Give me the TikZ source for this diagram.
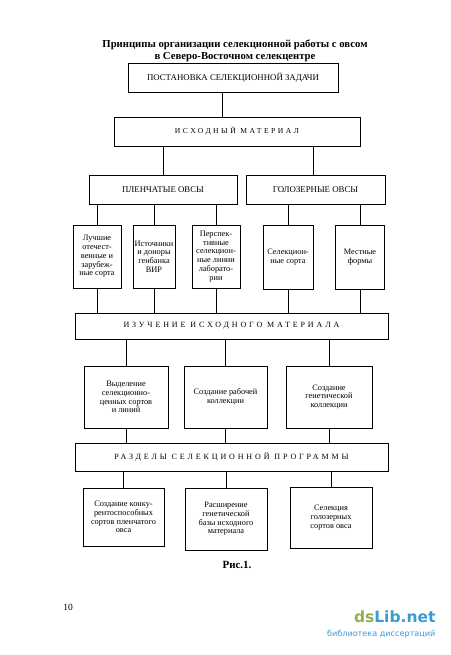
\documentclass[tikz,border=0pt]{standalone}
\usepackage{fontspec}
\setmainfont{Liberation Serif}
\newfontfamily\wmfont{DejaVu Sans}
\newfontfamily\spaced[LetterSpace=36]{Liberation Serif}
\newfontfamily\spacedless[LetterSpace=33]{Liberation Serif}
\usepackage{tikz}
\usetikzlibrary{positioning}
\definecolor{wmgreen}{HTML}{8DB14C}
\definecolor{wmblue}{HTML}{3D9AD1}
\tikzset{
  frame/.style={draw, line width=0.7pt, inner sep=1pt, align=center, font=\fontsize{8.3}{8.7}\selectfont},
  head/.style={frame, font=\fontsize{8.8}{10}\selectfont},
  wide/.style={frame, font=\fontsize{8}{10}\selectfont\spaced},
  link/.style={line width=0.6pt},
}

\begin{document}
\begin{tikzpicture}[x=1pt,y=-1pt]
\useasboundingbox (0,0) rectangle (450,655);

% title
\node[font=\fontsize{10.7}{12.5}\selectfont\bfseries, align=center] (title) at (235,51)
  {Принципы организации селекционной работы с овсом\\в Северо-Восточном селекцентре};

% upper part
\node[head, minimum width=210, minimum height=29] (task) at (233,77.5) {ПОСТАНОВКА СЕЛЕКЦИОННОЙ ЗАДАЧИ};
\node[wide, minimum width=246, minimum height=29, font=\fontsize{7.6}{10}\selectfont\spacedless] (source) at (237,131.5) {ИСХОДНЫЙ МАТЕРИАЛ};
\node[head, minimum width=148, minimum height=29] (hulled) at (163,189.5) {ПЛЕНЧАТЫЕ ОВСЫ};
\node[head, minimum width=139, minimum height=29] (naked) at (315.5,189.5) {ГОЛОЗЕРНЫЕ ОВСЫ};

\node[frame, minimum width=48, minimum height=63] (best) at (97,256.5) {Лучшие\\отечест-\\венные и\\зарубеж-\\ные сорта};
\node[frame, minimum width=42, minimum height=63] (vir) at (154,256.5) {Источники\\и доноры\\генбанка\\ВИР};
\node[frame, minimum width=48, minimum height=63] (lines) at (216,256.5) {Перспек-\\тивные\\селекцион-\\ные линии\\лаборато-\\рии};
\node[frame, minimum width=50, minimum height=64] (sorts) at (288,257) {Селекцион-\\ные сорта};
\node[frame, minimum width=49, minimum height=64] (local) at (360,257) {Местные\\формы};

% study
\node[wide, minimum width=313, minimum height=26] (study) at (231.5,326) {ИЗУЧЕНИЕ ИСХОДНОГО МАТЕРИАЛА};
\node[frame, minimum width=84, minimum height=62] (pick) at (126,397) {Выделение\\селекционно-\\ценных сортов\\и линий};
\node[frame, minimum width=83, minimum height=62] (work) at (225.5,397) {Создание рабочей\\коллекции};
\node[frame, minimum width=86, minimum height=62] (gen) at (329,397) {Создание\\генетической\\коллекции};

% program
\node[wide, minimum width=313, minimum height=28] (parts) at (231.5,457) {РАЗДЕЛЫ СЕЛЕКЦИОННОЙ ПРОГРАММЫ};
\node[frame, minimum width=81, minimum height=58] (comp) at (123.5,517) {Создание конку-\\рентоспособных\\сортов пленчатого\\овса};
\node[frame, minimum width=82, minimum height=62] (base) at (226,519) {Расширение\\генетической\\базы исходного\\материала};
\node[frame, minimum width=82, minimum height=61] (bare) at (331,517.5) {Селекция\\голозерных\\сортов овса};

\node[font=\fontsize{11}{12}\selectfont\bfseries] (fig) at (237,565) {Рис.1.};
\node[font=\fontsize{9.5}{11}\selectfont] (page) at (68,607) {10};
\node[font=\fontsize{15.5}{16}\selectfont\wmfont\bfseries, anchor=east] (brand) at (439,617)
  {\textcolor{wmgreen}{ds}\textcolor{wmblue}{Lib.net}};
\node[font=\fontsize{8.1}{10}\selectfont\wmfont, text=wmblue, anchor=east] (brandsub) at (439,634)
  {библиотека диссертаций};

% connectors
\draw[link] ([xshift=-11pt]task.south) -- ([xshift=-11pt]task.south |- source.north);
\draw[link] (hulled.north) -- (hulled.north |- source.south);
\draw[link] ([xshift=-2pt]naked.north) -- ([xshift=-2pt]naked.north |- source.south);
\foreach \n in {best,vir,lines}
  \draw[link] (\n.north) -- (\n.north |- hulled.south);
\foreach \n in {sorts,local}
  \draw[link] (\n.north) -- (\n.north |- naked.south);
\foreach \n in {best,vir,lines,sorts,local}
  \draw[link] (\n.south) -- (\n.south |- study.north);
\foreach \n in {pick,work,gen}
  \draw[link] (\n.north) -- (\n.north |- study.south);
\foreach \n in {pick,work,gen}
  \draw[link] (\n.south) -- (\n.south |- parts.north);
\foreach \n in {comp,base,bare}
  \draw[link] (\n.north) -- (\n.north |- parts.south);
\end{tikzpicture}
\end{document}
